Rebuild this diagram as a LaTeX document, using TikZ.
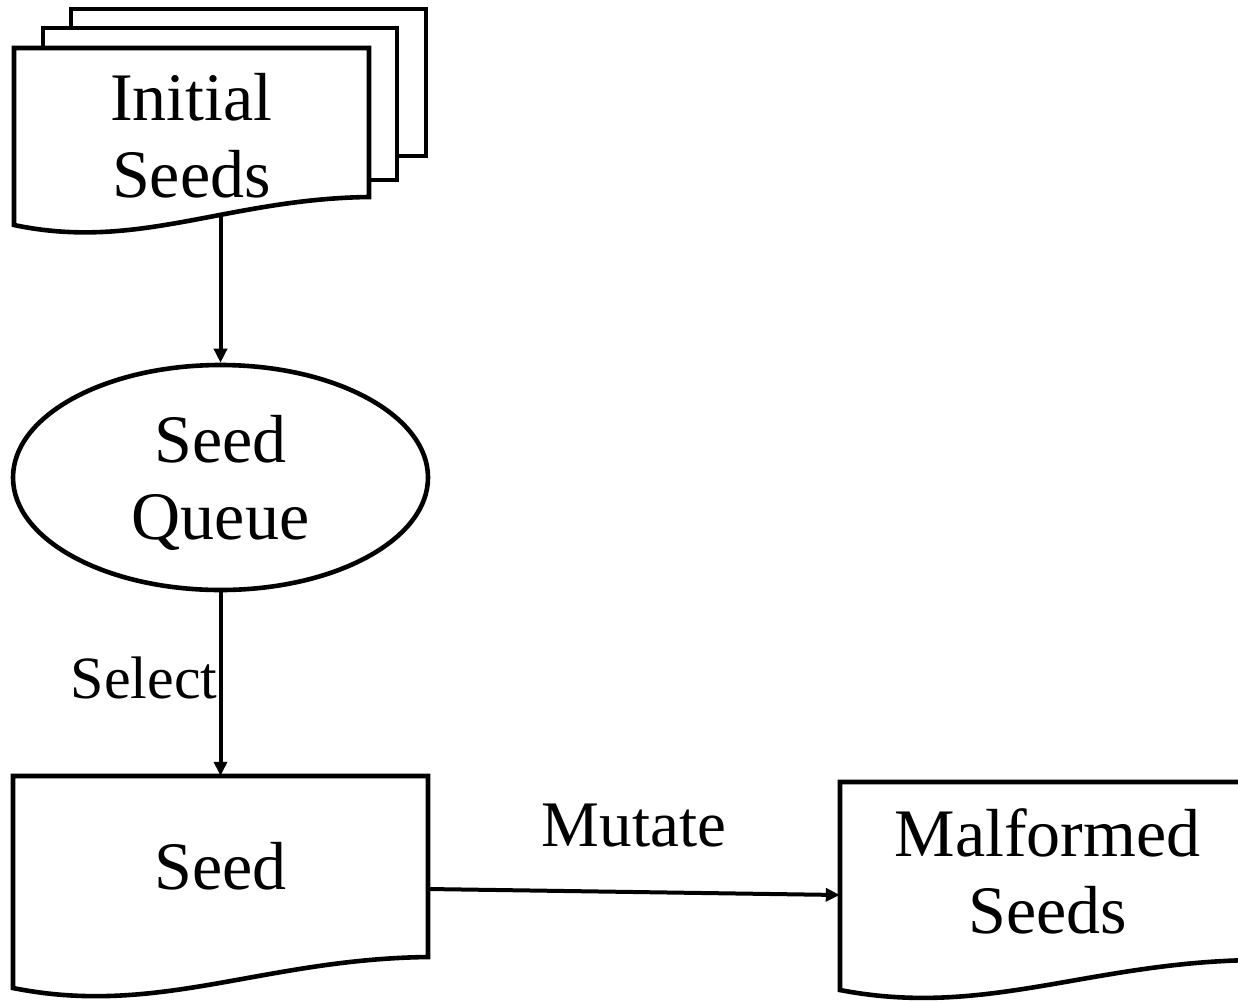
\documentclass[tikz,border=0pt]{standalone}
\usepackage{fontspec}
\setmainfont{Liberation Serif}
\usetikzlibrary{arrows.meta,shapes.geometric,calc}

\pgfdeclarelayer{edges}
\pgfsetlayers{edges,main}

% Document symbol: flat top, straight sides, wavy bottom edge.
% #1 left x, #2 top y, #3 right x, #4 bottom y at the right side, #5 drop of the wave at the left side
\newcommand{\docoutline}[5]{%
  \path[docline] (#1,#2) -- (#3,#2) -- (#3,#4)
    .. controls ({#1+0.6*(#3-#1)},{#4+0.065*#5}) and ({#1+0.35*(#3-#1)},{#4+1.94*#5}) ..
    (#1,{#4+#5}) -- cycle;
}

\tikzset{
  x=1pt, y=-1pt,
  docline/.style={draw=black, fill=white, line width=4.6pt},
  bigtext/.style={font=\fontsize{68}{77}\selectfont, align=center, inner sep=0pt},
  docnode/.style={bigtext, draw=none, rectangle},
  queuenode/.style={bigtext, ellipse, draw=black, fill=white, line width=4.6pt,
    minimum width=415pt, minimum height=225pt},
  flow/.style={line width=4pt, -{Triangle[length=14pt,width=13pt]}},
  edgelabel/.style={inner sep=1pt}
}

\begin{document}
\begin{tikzpicture}
\useasboundingbox (0,0) rectangle (1238,1002);

% stack of initial seed documents
\path[docline] (71,9) rectangle (426,156);
\path[docline] (43,28) rectangle (397,180);
\docoutline{14}{48}{369}{197}{28}
\node[docnode] (init) at (191.5,136) {Initial\\Seeds};

% seed queue
\node[queuenode] (queue) at (220.5,477.5) {Seed\\\smash{Queue}};

% selected seed
\docoutline{13}{776}{428}{957}{31}
\node[docnode, minimum width=415pt, minimum height=181pt] (seed) at (220.5,866.5) {Seed};

% mutated output
\docoutline{840}{782}{1255}{960}{30}
\node[docnode, minimum width=415pt, minimum height=178pt] (malformed) at (1047.5,871) {Malformed\\Seeds};

% connectors sit beneath the white-filled shapes
\begin{pgfonlayer}{edges}
  \draw[flow] (init.center -| queue.north) -- (queue.north);
  \draw[flow] (queue.south) -- node[midway, left, edgelabel, yshift=6pt,
      font=\fontsize{60}{64}\selectfont] {Select} (seed.north);
  \draw[flow] ([yshift=-22.5pt]seed.east) -- node[midway, yshift=66pt,
      font=\fontsize{65}{70}\selectfont] {Mutate} ([yshift=-24pt]malformed.west);
\end{pgfonlayer}
\end{tikzpicture}
\end{document}
